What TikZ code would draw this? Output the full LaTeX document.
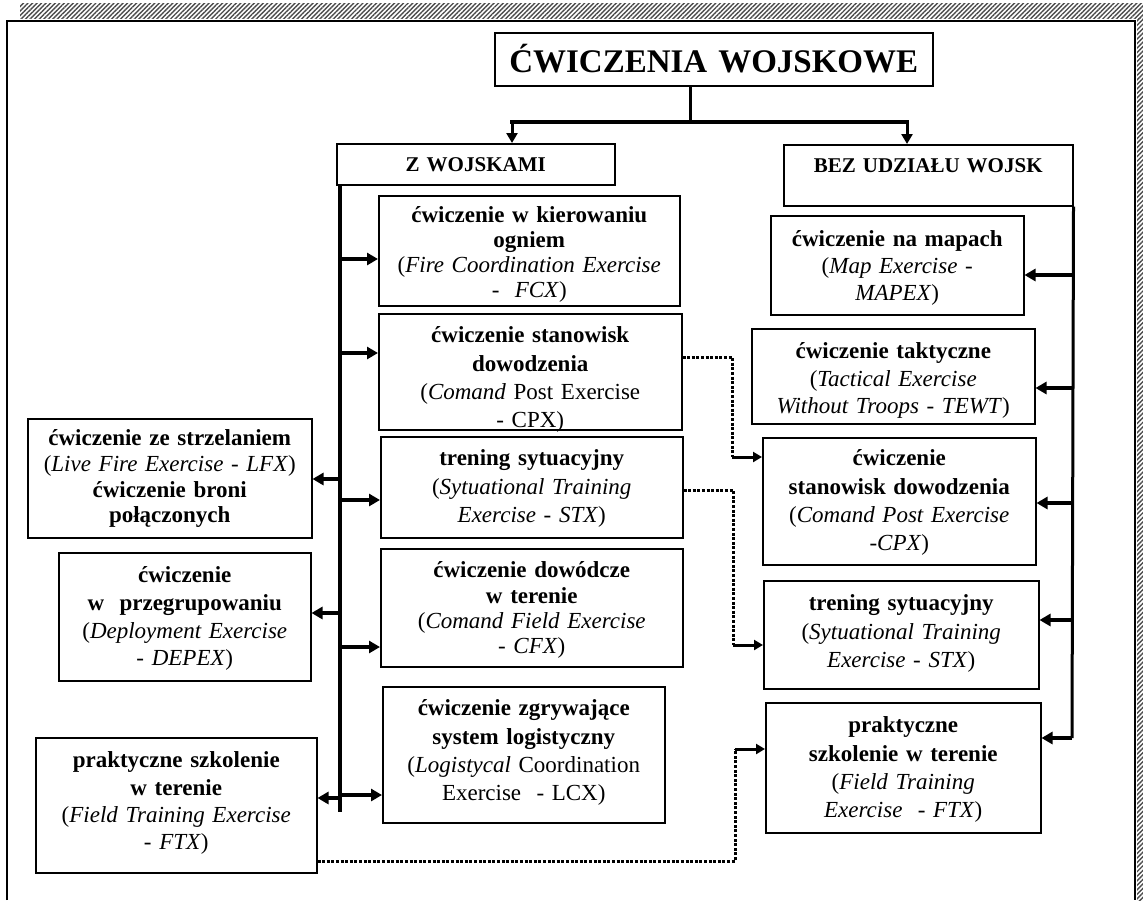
\documentclass[tikz,border=0pt]{standalone}
\usepackage{fontspec}
\setmainfont{Liberation Serif}
\usetikzlibrary{arrows.meta,patterns.meta}
\newcommand\bxf[1]{\fontsize{23}{#1}\selectfont}
\begin{document}
\begin{tikzpicture}[x=1pt,y=-1pt,
  box/.style={draw,line width=1.5pt,inner xsep=2pt,inner ysep=0pt,align=center,anchor=north west},
  trunk/.style={line width=4pt},
  arr/.style={line width=3.5pt,-{Triangle[length=11pt,width=12pt]}},
  sarr/.style={line width=3pt,-{Triangle[length=9pt,width=10pt]}},
  darr/.style={line width=3pt,-{Triangle[length=10pt,width=11pt]}},
  dots/.style={line width=3pt,dash pattern=on 3pt off 1.6pt},
  hatch/.style={pattern={Lines[angle=45,distance=3.2pt,line width=1.4pt]},pattern color=black!70},
]
\useasboundingbox (0,0) rectangle (1143,900);
% hatched border and frame
\fill[hatch] (20,3) rectangle (1143,18);
\fill[hatch] (1137,18) rectangle (1143,900);
\draw[line width=1.6pt] (7,900) -- (7,21) -- (1135,21) -- (1135,900);

% top
\node[box,text width=434pt,text height=40pt,text depth=13pt,font=\fontsize{33}{36}\selectfont\bfseries] (title) at (494,32) {ĆWICZENIA WOJSKOWE};
\node[box,text width=274pt,text height=28pt,text depth=13pt,font=\fontsize{21}{24}\selectfont\bfseries] (zw) at (336,143) {Z WOJSKAMI};
\node[box,text width=285pt,text height=28pt,text depth=33pt,font=\fontsize{21}{24}\selectfont\bfseries] (bez) at (783,144) {BEZ UDZIAŁU WOJSK};

% middle column
\node[box,text width=297pt,text height=27pt,text depth=83pt,font=\bxf{25}] (fcx) at (378,195)
 {\textbf{ćwiczenie w kierowaniu}\\ \textbf{ogniem}\\ (\textit{Fire Coordination Exercise}\\ \textit{-~ FCX})};
\node[box,text width=299pt,text height=29pt,text depth=87pt,font=\bxf{28.3}] (cpx) at (378,313)
 {\textbf{ćwiczenie stanowisk}\\ \textbf{dowodzenia}\\ (\textit{Comand} Post Exercise\\ - CPX)};
\node[box,text width=298pt,text height=29pt,text depth=72pt,font=\bxf{28.5}] (stx) at (380,436)
 {\textbf{trening sytuacyjny}\\ (\textit{Sytuational Training}\\ \textit{Exercise - STX})};
\node[box,text width=298pt,text height=29pt,text depth=89pt,font=\bxf{25.3}] (cfx) at (380,548)
 {\textbf{ćwiczenie dowódcze}\\ \textbf{w terenie}\\ (\textit{Comand Field Exercise}\\ \textit{- CFX})};
\node[box,text width=278pt,text height=29pt,text depth=107pt,font=\bxf{28.3}] (lcx) at (382,686)
 {\textbf{ćwiczenie zgrywające}\\ \textbf{system logistyczny}\\ (\textit{Logistycal} Coordination\\ Exercise~ - LCX)};

% left column
\node[box,text width=280pt,text height=27pt,text depth=92pt,font=\bxf{25.7}] (lfx) at (27,418)
 {\textbf{ćwiczenie ze strzelaniem}\\ (\textit{Live Fire Exercise - LFX})\\ \textbf{ćwiczenie broni}\\ \textbf{połączonych}};
\node[box,text width=248pt,text height=30pt,text depth=98pt,font=\bxf{27.7}] (dep) at (58,552)
 {\textbf{ćwiczenie}\\ \textbf{w~ przegrupowaniu}\\ (\textit{Deployment Exercise}\\ \textit{- DEPEX})};
\node[box,text width=277pt,text height=30pt,text depth=105pt,font=\bxf{27.3}] (ftxl) at (35,737)
 {\textbf{praktyczne szkolenie}\\ \textbf{w terenie}\\ (\textit{Field Training Exercise}\\ \textit{- FTX})};

% right column
\node[box,text width=249pt,text height=31pt,text depth=68pt,font=\bxf{27}] (mapex) at (770,215)
 {\textbf{ćwiczenie na mapach}\\ (\textit{Map Exercise -}\\ \textit{MAPEX})};
\node[box,text width=279pt,text height=30pt,text depth=65pt,font=\bxf{27.5}] (tewt) at (751,328)
 {\textbf{ćwiczenie taktyczne}\\ (\textit{Tactical Exercise}\\ \textit{Without Troops - TEWT})};
\node[box,text width=269pt,text height=28pt,text depth=99pt,font=\bxf{28.3}] (cpxr) at (762,437)
 {\textbf{ćwiczenie}\\ \textbf{stanowisk dowodzenia}\\ (\textit{Comand Post Exercise}\\ \textit{-CPX})};
\node[box,text width=271pt,text height=30pt,text depth=78pt,font=\bxf{28.5}] (stxr) at (763,580)
 {\textbf{trening sytuacyjny}\\ (\textit{Sytuational Training}\\ \textit{Exercise - STX})};
\node[box,text width=271pt,text height=30pt,text depth=100pt,font=\bxf{28.3}] (ftxr) at (765,702)
 {\textbf{praktyczne}\\ \textbf{szkolenie w terenie}\\ (\textit{Field Training}\\ \textit{Exercise~ - FTX})};

% top connectors
\coordinate (j) at (690,122);
\coordinate (jl) at (512,122);
\coordinate (jr) at (907,122);
\draw[line width=3pt] (title.south -| j) -- (j);
\draw[line width=4.5pt,line cap=rect] (jl) -- (jr);
\draw[darr] (jl) -- (jl |- zw.north);
\draw[darr] (jr) -- (jr |- bez.north);

% left trunk
\coordinate (ltb) at (340,812);
\draw[trunk] (zw.south -| ltb) -- (ltb);
\coordinate (a1) at (340,259);
\coordinate (a2) at (340,353);
\coordinate (a3) at (340,500);
\coordinate (a4) at (340,647);
\coordinate (a5) at (340,795);
\draw[arr] (a1) -- (a1 -| fcx.west);
\draw[arr] (a2) -- (a2 -| cpx.west);
\draw[arr] (a3) -- (a3 -| stx.west);
\draw[arr] (a4) -- (a4 -| cfx.west);
\draw[arr] (a5) -- (a5 -| lcx.west);
\coordinate (b1) at (340,479);
\coordinate (b2) at (340,613);
\coordinate (b3) at (340,798);
\draw[arr] (b1) -- (b1 -| lfx.east);
\draw[arr] (b2) -- (b2 -| dep.east);
\draw[arr] (b3) -- (b3 -| ftxl.east);

% right trunk
\coordinate (rtb) at (1072,738);
\draw[line width=3pt] (bez.south east) -- (rtb);
\coordinate (c1) at (1072,275);
\coordinate (c2) at (1072,388);
\coordinate (c3) at (1072,503);
\coordinate (c4) at (1072,620);
\draw[arr] (c1) -- (c1 -| mapex.east);
\draw[arr] (c2) -- (c2 -| tewt.east);
\draw[arr] (c3) -- (c3 -| cpxr.east);
\draw[arr] (c4) -- (c4 -| stxr.east);
\draw[arr] (rtb) -- (rtb -| ftxr.east);

% dotted cross links
\coordinate (d1a) at (732,357);
\coordinate (d1b) at (732,457);
\draw[dots] (cpx.east |- d1a) -- (d1a) -- (d1b);
\draw[sarr] (d1b) -- (d1b -| cpxr.west);
\coordinate (d2a) at (733,490);
\coordinate (d2b) at (733,645);
\draw[dots] (stx.east |- d2a) -- (d2a) -- (d2b);
\draw[sarr] (d2b) -- (d2b -| stxr.west);
\coordinate (d3a) at (735,861);
\coordinate (d3b) at (735,749);
\draw[dots] (ftxl.east |- d3a) -- (d3a) -- (d3b);
\draw[sarr] (d3b) -- (d3b -| ftxr.west);
\end{tikzpicture}
\end{document}
